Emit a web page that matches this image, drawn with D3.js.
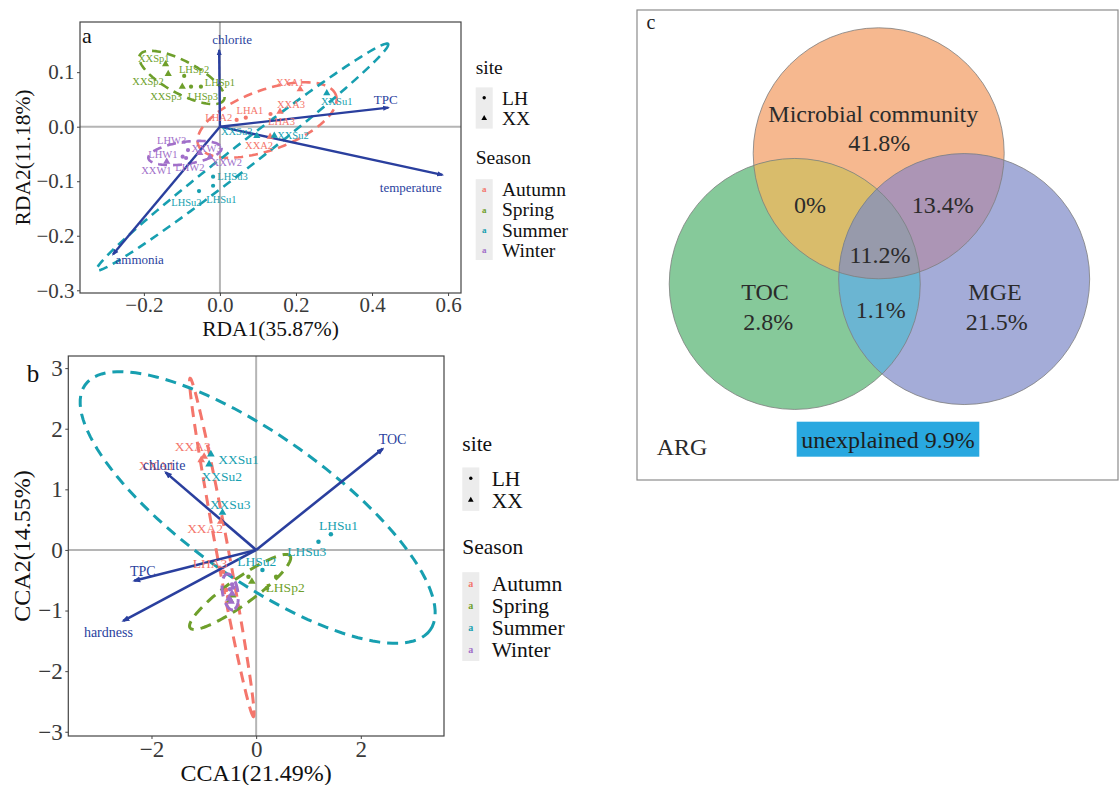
<!DOCTYPE html>
<html>
<head>
<meta charset="utf-8">
<script src="https://cdn.jsdelivr.net/npm/d3@7"></script>
<style>
  body { margin: 0; background: #fff; }
  svg text { font-family: "Liberation Serif", "Times New Roman", serif; }
</style>
</head>
<body>
<svg id="fig" width="1119" height="785"></svg>
<script>
// ---- data ----
const seasonNames = ["Autumn", "Spring", "Summer", "Winter"];
const seasonColors = ["#F4766C", "#6E9F2B", "#179FB0", "#A16FC9"];
const siteNames = ["LH", "XX"];

const sampleNames = ["XXSp1", "XXSp2", "XXSp3", "LHSp1", "LHSp2", "LHSp3",
  "XXA1", "XXA2", "XXA3", "LHA1", "LHA2", "LHA3",
  "XXSu1", "XXSu2", "XXSu3", "LHSu1", "LHSu2", "LHSu3",
  "XXW1", "XXW2", "XXW3", "LHW1", "LHW2", "LHW3"];

// panel a, RDA sample scores and label spots
const rda1 = [-0.143, -0.136, -0.099, -0.050, -0.094, -0.076,
  0.211, 0.132, 0.158, 0.068, 0.044, 0.133,
  0.281, 0.143, 0.097, -0.018, -0.055, -0.018,
  -0.140, -0.026, -0.053, -0.098, -0.089, -0.084];
const rda2 = [0.1145, 0.0967, 0.0734, 0.0734, 0.093, 0.0734,
  0.0686, -0.0183, 0.0275, 0.0165, 0.0123, 0.0233,
  0.0613, -0.0165, -0.0171, -0.1083, -0.118, -0.0917,
  -0.0642, -0.0556, -0.0483, -0.055, -0.0574, -0.0428];
const rdaLab1 = [-0.174, -0.189, -0.142, 0.0, -0.068, -0.045,
  0.184, 0.103, 0.187, 0.079, -0.003, 0.162,
  0.307, 0.192, 0.044, 0.004, -0.088, 0.033,
  -0.167, 0.018, -0.035, -0.150, -0.079, -0.127];
const rdaLab2 = [0.126, 0.0826, 0.0563, 0.0815, 0.105, 0.055,
  0.0815, -0.0336, 0.041, 0.0306, 0.0172, 0.0092,
  0.0472, -0.0152, -0.0079, -0.1327, -0.1394, -0.0905,
  -0.0794, -0.0648, -0.039, -0.050, -0.0752, -0.0244];

const rdaEnv = ["chlorite", "TPC", "temperature", "ammonia"];
const rdaEnv1 = [-0.002, 0.443, 0.585, -0.281];
const rdaEnv2 = [0.1404, 0.0349, -0.0884, -0.2341];
const rdaEnvLab1 = [0.032, 0.436, 0.502, -0.211];
const rdaEnvLab2 = [0.160, 0.050, -0.111, -0.243];

// ellipses per season: centre, half major axis vector, minor/major ratio
const rdaEllCx = [0.124, -0.100, 0.0592, -0.092];
const rdaEllCy = [0.0123, 0.0903, -0.0556, -0.0483];
const rdaEllUx = [0.181, 0.1105, 0.383, 0.0963];
const rdaEllUy = [0.0459, -0.0413, 0.2073, 0.0094];
const rdaEllRatio = [0.41, 0.34, 0.065, 0.3];

// panel b, CCA sample scores and label spots (null = label hidden)
const cca1 = [-0.082, -0.497, -0.45, 0.382, 0.205, -0.147,
  -1.05, -0.675, -0.994, -0.574, -0.535, -0.631,
  -0.866, -0.899, -0.644, 1.428, 0.120, 1.191,
  -0.52, -0.46, -0.48, -0.46, -0.50, -0.44];
const cca2 = [-0.523, -0.825, -0.75, -0.441, -0.632, -0.441,
  1.485, 0.467, 1.540, -0.66, -0.776, -0.358,
  1.579, 1.414, 0.616, 0.259, -0.330, 0.137,
  -0.80, -0.72, -0.85, -0.57, -0.65, -0.62];
const ccaLab1 = [null, null, null, null, 0.554, null,
  -1.899, -0.975, -1.210, null, null, -0.880,
  -0.338, -0.656, -0.497, 1.574, 0.013, 0.969,
  null, null, null, null, null, null];
const ccaLab2 = [null, null, null, null, -0.616, null,
  1.403, 0.358, 1.705, null, null, -0.219,
  1.502, 1.210, 0.759, 0.413, -0.182, -0.028,
  null, null, null, null, null, null];

const ccaEnv = ["TOC", "chlorite", "TPC", "hardness"];
const ccaEnv1 = [2.42, -1.73, -2.33, -2.54];
const ccaEnv2 = [1.67, 1.28, -0.51, -1.17];
const ccaEnvLab1 = [2.607, -1.759, -2.166, -2.824];
const ccaEnvLab2 = [1.827, 1.403, -0.342, -1.358];

const ccaEllCx = [-0.656, -0.306, 0.029, -0.497];
const ccaEllCy = [0.041, -0.693, 0.701, -0.693];
const ccaEllUx = [0.606, 0.956, 3.298, 0.057];
const ccaEllUy = [-2.792, 0.594, -2.021, -0.297];
const ccaEllRatio = [0.035, 0.21, 0.34, 0.42];

// panel c, variation partitioning
const vennSets = ["Microbial community", "TOC", "MGE"];
const vennUnique = [41.8, 2.8, 21.5];
const vennPairs = ["0%", "13.4%", "1.1%"];      // MC&TOC, MC&MGE, TOC&MGE
const vennAll = "11.2%";
const unexplained = 9.9;
const vennCentersU = [0, -0.669, 0.681];
const vennCentersV = [0, 1.041, 1.002];

const svg = d3.select("#fig");
const color = d3.scaleOrdinal(seasonNames, seasonColors);
const envColor = "#2A3F9E";

function seasonOf(name) {
  var code = name.slice(2).replace(/[0-9]/g, "");
  return {A: "Autumn", Sp: "Spring", Su: "Summer", W: "Winter"}[code];
}

function ellipsePoints(xs, ys, cx, cy, ux, uy, ratio) {
  var c = [xs(cx), ys(cy)];
  var e = [xs(cx + ux) - c[0], ys(cy + uy) - c[1]];
  var p = [-e[1] * ratio, e[0] * ratio];
  return d3.range(0, 360, 3).map(function (deg) {
    var t = deg * Math.PI / 180;
    return [c[0] + e[0] * Math.cos(t) + p[0] * Math.sin(t),
            c[1] + e[1] * Math.cos(t) + p[1] * Math.sin(t)];
  });
}

function drawOrdination(o) {
  var g = svg.append("g");
  var x = d3.scaleLinear().domain(o.xDomain).range([o.left, o.right]);
  var y = d3.scaleLinear().domain(o.yDomain).range([o.bottom, o.top]);

  g.append("clipPath").attr("id", "clip-" + o.tag)
    .append("rect").attr("x", o.left).attr("y", o.top)
    .attr("width", o.right - o.left).attr("height", o.bottom - o.top);

  var marker = svg.append("defs").append("marker")
    .attr("id", "arrow-" + o.tag).attr("viewBox", "0 0 8 8")
    .attr("refX", 6).attr("refY", 4)
    .attr("markerWidth", o.arrowSize).attr("markerHeight", o.arrowSize)
    .attr("markerUnits", "userSpaceOnUse").attr("orient", "auto");
  marker.append("path").attr("d", "M0,1 L8,4 L0,7 Z").attr("fill", envColor);

  var plot = g.append("g").attr("clip-path", "url(#clip-" + o.tag + ")");

  // zero lines
  plot.append("line").attr("x1", x(0)).attr("x2", x(0)).attr("y1", o.top).attr("y2", o.bottom)
    .attr("stroke", "#b5b5b5").attr("stroke-width", 2);
  plot.append("line").attr("x1", o.left).attr("x2", o.right).attr("y1", y(0)).attr("y2", y(0))
    .attr("stroke", "#b5b5b5").attr("stroke-width", 2);

  // ellipses
  var line = d3.line().curve(d3.curveLinearClosed);
  seasonNames.forEach(function (s, i) {
    plot.append("path")
      .attr("d", line(ellipsePoints(x, y, o.ell.cx[i], o.ell.cy[i], o.ell.ux[i], o.ell.uy[i], o.ell.ratio[i])))
      .attr("fill", "none").attr("stroke", color(s))
      .attr("stroke-width", o.ellWidth).attr("stroke-dasharray", o.dash);
  });

  // environmental arrows
  o.env.names.forEach(function (n, i) {
    plot.append("line")
      .attr("x1", x(0)).attr("y1", y(0))
      .attr("x2", x(o.env.x[i])).attr("y2", y(o.env.y[i]))
      .attr("stroke", envColor).attr("stroke-width", o.arrowWidth)
      .attr("marker-end", "url(#arrow-" + o.tag + ")");
  });

  // samples
  var samples = sampleNames.map(function (n, i) {
    return {name: n, site: n.slice(0, 2), season: seasonOf(n),
      x: o.sx[i], y: o.sy[i], lx: o.lx[i], ly: o.ly[i]};
  });
  plot.selectAll("path.pt").data(samples).enter().append("path")
    .attr("class", "pt")
    .attr("transform", function (d) { return "translate(" + x(d.x) + "," + y(d.y) + ")"; })
    .attr("d", function (d) {
      return d.site === "LH"
        ? d3.symbol(d3.symbolCircle).size(o.pointSize)()
        : d3.symbol(d3.symbolTriangle).size(o.pointSize * 1.6)();
    })
    .attr("fill", function (d) { return color(d.season); });

  plot.selectAll("text.lab").data(samples.filter(function (d) { return d.lx !== null; }))
    .enter().append("text").attr("class", "lab")
    .attr("x", function (d) { return x(d.lx); })
    .attr("y", function (d) { return y(d.ly); })
    .attr("dy", "0.35em").attr("text-anchor", "middle")
    .attr("font-size", o.labelFont)
    .attr("fill", function (d) { return color(d.season); })
    .text(function (d) { return d.name; });

  o.env.names.forEach(function (n, i) {
    plot.append("text")
      .attr("x", x(o.env.lx[i])).attr("y", y(o.env.ly[i]))
      .attr("dy", "0.35em").attr("text-anchor", "middle")
      .attr("font-size", o.envFont).attr("fill", envColor)
      .text(n);
  });

  // frame
  g.append("rect").attr("x", o.left).attr("y", o.top)
    .attr("width", o.right - o.left).attr("height", o.bottom - o.top)
    .attr("fill", "none").attr("stroke", "#444").attr("stroke-width", 1.2);

  // axes
  var fmt = o.fmt ? d3.format(o.fmt) : d3.format("d");
  var xa = g.append("g").attr("transform", "translate(0," + o.bottom + ")")
    .call(d3.axisBottom(x).tickValues(o.xTicks).tickFormat(fmt).tickSize(3).tickPadding(1.5));
  var ya = g.append("g").attr("transform", "translate(" + o.left + ",0)")
    .call(d3.axisLeft(y).tickValues(o.yTicks).tickFormat(fmt).tickSize(3).tickPadding(2.5));
  [xa, ya].forEach(function (a) {
    a.select(".domain").remove();
    a.selectAll("line").attr("stroke", "#444");
    a.selectAll("text").attr("font-size", o.tickFont).attr("fill", "#3a3a3a")
      .attr("font-family", "Liberation Serif, Times New Roman, serif");
  });

  g.append("text").attr("x", (o.left + o.right) / 2).attr("y", o.xTitleY)
    .attr("dy", "0.35em").attr("text-anchor", "middle")
    .attr("font-size", o.titleFont).attr("fill", "#111").text(o.xTitle);
  g.append("text")
    .attr("transform", "translate(" + o.yTitleX + "," + (o.top + o.bottom) / 2 + ") rotate(-90)")
    .attr("dy", "0.35em").attr("text-anchor", "middle")
    .attr("font-size", o.titleFont).attr("fill", "#111").text(o.yTitle);

  g.append("text").attr("x", o.tagX).attr("y", o.tagY).attr("dy", "0.35em")
    .attr("text-anchor", "middle").attr("font-size", o.tagFont).attr("fill", "#111").text(o.tag);
}

function drawLegend(o) {
  var g = svg.append("g").attr("font-size", o.font);
  g.append("text").attr("x", o.x).attr("y", o.siteTitleY).attr("dy", "0.35em")
    .attr("fill", "#111").text("site");
  g.append("rect").attr("x", o.x).attr("y", o.siteY0 - o.siteStep / 2)
    .attr("width", o.keyW).attr("height", o.siteStep * siteNames.length).attr("fill", "#ececec");
  siteNames.forEach(function (s, i) {
    var cy = o.siteY0 + i * o.siteStep;
    g.append("path")
      .attr("transform", "translate(" + (o.x + o.keyW / 2) + "," + cy + ")")
      .attr("d", d3.symbol(i === 0 ? d3.symbolCircle : d3.symbolTriangle).size(i === 0 ? 9 : 14)())
      .attr("fill", "#000");
    g.append("text").attr("x", o.textX).attr("y", cy).attr("dy", "0.35em")
      .attr("fill", "#111").text(s);
  });

  g.append("text").attr("x", o.x).attr("y", o.seasonTitleY).attr("dy", "0.35em")
    .attr("fill", "#111").text("Season");
  g.append("rect").attr("x", o.x).attr("y", o.seasonY0 - o.seasonStep / 2)
    .attr("width", o.keyW).attr("height", o.seasonStep * seasonNames.length).attr("fill", "#ececec");
  seasonNames.forEach(function (s, i) {
    var cy = o.seasonY0 + i * o.seasonStep;
    g.append("text").attr("x", o.x + o.keyW / 2).attr("y", cy).attr("dy", "0.35em")
      .attr("text-anchor", "middle").attr("font-size", o.keyFont).attr("font-weight", "bold")
      .attr("font-family", "Liberation Sans, Arial, sans-serif")
      .attr("fill", color(s)).text("a");
    g.append("text").attr("x", o.textX).attr("y", cy).attr("dy", "0.35em")
      .attr("fill", "#111").text(s);
  });
}

// ---- panel a ----
drawOrdination({
  tag: "a", tagX: 87, tagY: 35, tagFont: 22,
  xDomain: [-0.368, 0.634], yDomain: [-0.305, 0.192],
  left: 80, right: 461, top: 22, bottom: 293,
  xTicks: [-0.2, 0, 0.2, 0.4, 0.6], yTicks: [-0.3, -0.2, -0.1, 0, 0.1], fmt: ".1f",
  tickFont: 21, titleFont: 21.5, xTitleY: 328.5, yTitleX: 22,
  xTitle: "RDA1(35.87%)", yTitle: "RDA2(11.18%)",
  sx: rda1, sy: rda2, lx: rdaLab1, ly: rdaLab2,
  env: {names: rdaEnv, x: rdaEnv1, y: rdaEnv2, lx: rdaEnvLab1, ly: rdaEnvLab2},
  ell: {cx: rdaEllCx, cy: rdaEllCy, ux: rdaEllUx, uy: rdaEllUy, ratio: rdaEllRatio},
  ellWidth: 2.6, dash: "9,6", arrowWidth: 2.4, arrowSize: 7,
  pointSize: 14, labelFont: 10.5, envFont: 13
});

// ---- panel b ----
drawOrdination({
  tag: "b", tagX: 33, tagY: 373, tagFont: 25,
  xDomain: [-3.59, 3.59], yDomain: [-3.07, 3.2],
  left: 68.3, right: 444, top: 356, bottom: 736,
  xTicks: [-2, 0, 2], yTicks: [-3, -2, -1, 0, 1, 2, 3], fmt: null,
  tickFont: 23, titleFont: 24, xTitleY: 773, yTitleX: 22,
  xTitle: "CCA1(21.49%)", yTitle: "CCA2(14.55%)",
  sx: cca1, sy: cca2, lx: ccaLab1, ly: ccaLab2,
  env: {names: ccaEnv, x: ccaEnv1, y: ccaEnv2, lx: ccaEnvLab1, ly: ccaEnvLab2},
  ell: {cx: ccaEllCx, cy: ccaEllCy, ux: ccaEllUx, uy: ccaEllUy, ratio: ccaEllRatio},
  ellWidth: 3, dash: "11,7", arrowWidth: 2.6, arrowSize: 8,
  pointSize: 16, labelFont: 13.5, envFont: 14
});

drawLegend({x: 475.7, keyW: 17, textX: 502, font: 19.5, keyFont: 9,
  siteTitleY: 66.7, siteY0: 97.7, siteStep: 20.6,
  seasonTitleY: 157, seasonY0: 189.3, seasonStep: 20.2});
drawLegend({x: 462.3, keyW: 17, textX: 491.7, font: 21.5, keyFont: 10,
  siteTitleY: 443.3, siteY0: 478.3, siteStep: 21.7,
  seasonTitleY: 546.7, seasonY0: 583.3, seasonStep: 22.2});

// ---- panel c ----
(function () {
  var g = svg.append("g");
  var r = 125.5;
  var u = d3.scaleLinear().domain([0, 1]).range([878.7, 878.7 + r]);
  var v = d3.scaleLinear().domain([0, 1]).range([153.3, 153.3 + r]);
  var singleFill = ["#F6B88F", "#86C99A", "#A4ACD8"];
  var pairFill = ["#D9BC6B", "#AC95B5", "#6BB5D2"];
  var allFill = "#979AAB";
  var cx = vennCentersU.map(u), cy = vennCentersV.map(v);

  g.append("rect").attr("x", 637).attr("y", 10).attr("width", 481).attr("height", 470)
    .attr("fill", "#fff").attr("stroke", "#8c8c8c").attr("stroke-width", 1.2);
  g.append("text").attr("x", 651).attr("y", 22).attr("dy", "0.35em").attr("text-anchor", "middle")
    .attr("font-family", "Liberation Sans, Arial, sans-serif").attr("font-size", 20)
    .attr("fill", "#222").text("c");

  var defs = g.append("defs");
  vennSets.forEach(function (s, i) {
    defs.append("clipPath").attr("id", "vc" + i)
      .append("circle").attr("cx", cx[i]).attr("cy", cy[i]).attr("r", r);
  });
  vennSets.forEach(function (s, i) {
    g.append("circle").attr("cx", cx[i]).attr("cy", cy[i]).attr("r", r).attr("fill", singleFill[i]);
  });
  var pairs = [[0, 1], [0, 2], [1, 2]];
  pairs.forEach(function (p, k) {
    g.append("circle").attr("cx", cx[p[1]]).attr("cy", cy[p[1]]).attr("r", r)
      .attr("clip-path", "url(#vc" + p[0] + ")").attr("fill", pairFill[k]);
  });
  g.append("g").attr("clip-path", "url(#vc0)")
    .append("circle").attr("cx", cx[2]).attr("cy", cy[2]).attr("r", r)
    .attr("clip-path", "url(#vc1)").attr("fill", allFill);
  vennSets.forEach(function (s, i) {
    g.append("circle").attr("cx", cx[i]).attr("cy", cy[i]).attr("r", r)
      .attr("fill", "none").attr("stroke", "#7d7d7d").attr("stroke-width", 0.8);
  });

  function label(tu, tv, txt) {
    g.append("text").attr("x", u(tu)).attr("y", v(tv)).attr("dy", "0.35em")
      .attr("text-anchor", "middle").attr("font-size", 24).attr("fill", "#2b2b2b").text(txt);
  }
  label(-0.043, -0.319, vennSets[0]);
  label(0.005, -0.084, vennUnique[0] + "%");
  label(-0.906, 1.103, vennSets[1]);
  label(-0.880, 1.342, vennUnique[1] + "%");
  label(0.927, 1.103, vennSets[2]);
  label(0.940, 1.342, vennUnique[2] + "%");
  label(-0.547, 0.412, vennPairs[0]);
  label(0.510, 0.406, vennPairs[1]);
  label(0.016, 1.249, vennPairs[2]);
  label(0.010, 0.810, vennAll);

  g.append("rect").attr("x", 796.7).attr("y", 421.7).attr("width", 182.6).attr("height", 35)
    .attr("fill", "#29A8E0");
  g.append("text").attr("x", 888).attr("y", 439.5).attr("dy", "0.35em").attr("text-anchor", "middle")
    .attr("font-size", 24).attr("fill", "#1e1e1e").text("unexplained " + unexplained + "%");
  g.append("text").attr("x", 656.7).attr("y", 446.7).attr("dy", "0.35em")
    .attr("font-size", 24).attr("fill", "#2b2b2b").text("ARG");
})();
</script>
</body>
</html>
